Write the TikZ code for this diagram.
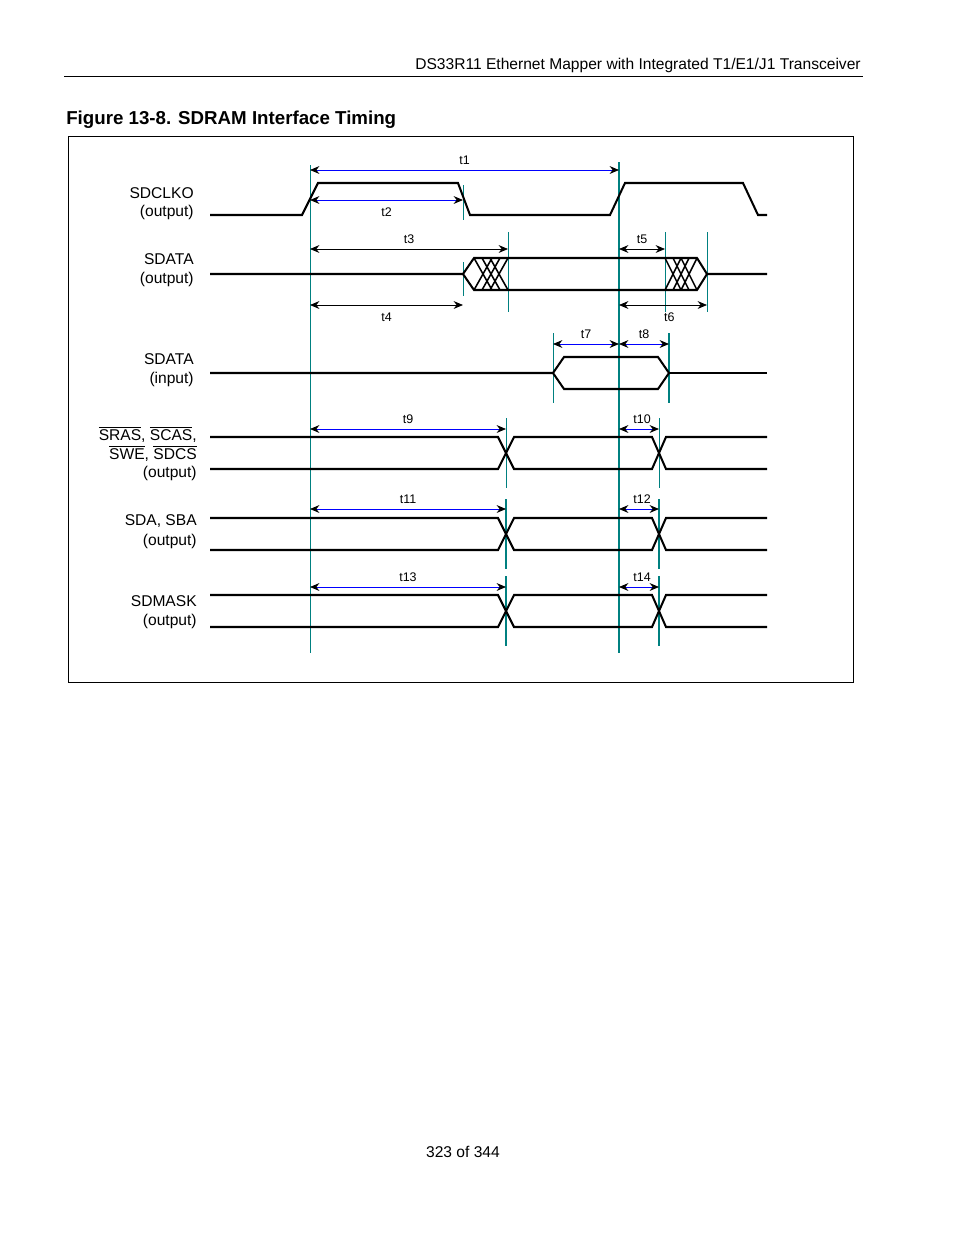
\documentclass[tikz,border=0pt]{standalone}
\usepackage{fontspec}
\setmainfont{Liberation Sans}
\usetikzlibrary{arrows, arrows.meta}
\tikzstyle{wave} = [line width=1.3pt, black]
\tikzstyle{edge} = [teal, line width=0.6pt]
\tikzstyle{edgebold} = [teal, line width=1.6pt]
\tikzstyle{tarrow} = [{Stealth[length=6pt,width=5pt,black]}-{Stealth[length=6pt,width=5pt,black]}, line width=0.5pt]
\tikzstyle{tblue} = [tarrow, draw=blue]
\tikzstyle{tlabel} = [font=\fontsize{8}{9}\selectfont, inner sep=0pt]
\tikzstyle{signame} = [font=\fontsize{10}{12}\selectfont, anchor=east, inner sep=0pt]
\begin{document}
\begin{tikzpicture}[x=0.6415pt, y=-0.6415pt]
    \useasboundingbox (0,0) rectangle (954,1235);
    % page header and frame
    \node (head) [anchor=east, inner sep=0pt, font=\fontsize{10}{12}\selectfont] at (861,65) {DS33R11 Ethernet Mapper with Integrated T1/E1/J1 Transceiver};
    \draw [line width=0.6pt] (64,76) -- (863,76);
    \node (title) [anchor=west, inner sep=0pt, font=\bfseries\fontsize{12}{14}\selectfont] at (66,120) {Figure 13-8. SDRAM Interface Timing};
    \draw [line width=0.6pt] (68,136) rectangle (853,682);
    \node (foot) [inner sep=0pt, font=\fontsize{10}{12}\selectfont] at (463,1152) {323 of 344};

    % signal names
    \node (clk) [signame] at (194,193) {SDCLKO};
    \node (clko) [signame] at (194,212) {(output)};
    \node (dout) [signame] at (194,259) {SDATA};
    \node (douto) [signame] at (194,279) {(output)};
    \node (din) [signame] at (194,359) {SDATA};
    \node (dini) [signame] at (194,379) {(input)};
    \node (ctl) [signame] at (197,434) {$\overline{\mbox{SRAS}}$, $\overline{\mbox{SCAS}}$,};
    \node (ctlb) [signame] at (197,453) {$\overline{\mbox{SWE}}$, $\overline{\mbox{SDCS}}$};
    \node (ctlo) [signame] at (197,473) {(output)};
    \node (adr) [signame] at (197,521) {SDA, SBA};
    \node (adro) [signame] at (197,541) {(output)};
    \node (msk) [signame] at (197,601) {SDMASK};
    \node (msko) [signame] at (197,621) {(output)};

    % reference edges
    \draw [edge] (310,165) -- (310,653);
    \draw [edgebold] (619,162) -- (619,653);
    \draw [edge] (463,185) -- (463,220);

    % SDCLKO
    \draw [wave] (210,215) -- (302,215) -- (318,183) -- (458,183) -- (470,215) -- (610,215) -- (625,183) -- (743,183) -- (758,215) -- (767,215);
    \draw [tblue] (310,170) -- node[tlabel, above=3pt] {t1} (619,170);
    \draw [tblue] (310,200) -- node[tlabel, below=5pt] {t2} (463,200);

    % SDATA output
    \draw [edge] (463,262) -- (463,296);
    \draw [edge] (508,232) -- (508,312);
    \draw [edge] (665,232) -- (665,312);
    \draw [edge] (707,232) -- (707,312);
    \draw [wave] (210,274) -- (463,274) -- (474,258) -- (665,258);
    \draw [wave] (463,274) -- (474,290) -- (665,290);
    \draw [wave] (665,258) -- (697,258) -- (707,274) -- (767,274);
    \draw [wave] (665,290) -- (697,290) -- (707,274);
    \foreach \x in {474,482,490} {
        \draw [line width=1pt] (\x,258) -- (\x+18,290);
        \draw [line width=1pt] (\x,290) -- (\x+18,258);
    }
    \foreach \x in {665,673,681} {
        \draw [line width=1pt] (\x,258) -- (\x+16,290);
        \draw [line width=1pt] (\x,290) -- (\x+16,258);
    }
    \draw [tarrow] (310,249) -- node[tlabel, above=3pt] {t3} (508,249);
    \draw [tarrow] (310,305) -- node[tlabel, below=5pt] {t4} (463,305);
    \draw [tarrow] (619,249) -- node[tlabel, above=3pt] {t5} (665,249);
    \draw [tarrow] (619,305) -- node[tlabel, below=5pt, xshift=4pt] {t6} (707,305);

    % SDATA input
    \draw [edge] (553,333) -- (553,403);
    \draw [edgebold] (669,333) -- (669,403);
    \draw [wave] (210,373) -- (553,373) -- (564,357) -- (658,357) -- (669,373) -- (658,389) -- (564,389) -- (553,373);
    \draw [wave] (669,373) -- (767,373);
    \draw [tblue] (553,344) -- node[tlabel, above=3pt] {t7} (619,344);
    \draw [tblue] (619,344) -- node[tlabel, above=3pt] {t8} (669,344);

    % command, address and mask buses
    \foreach \yt/\ya/\ta/\tb/\st in {437/429/t9/t10/edge, 518/509/t11/t12/edgebold, 595/587/t13/t14/edgebold} {
        \draw [\st] (506,\yt-19) -- (506,\yt+51);
        \draw [\st] (659,\yt-19) -- (659,\yt+51);
        \draw [wave] (210,\yt) -- (498,\yt) -- (514,\yt+32) -- (652,\yt+32) -- (666,\yt) -- (767,\yt);
        \draw [wave] (210,\yt+32) -- (498,\yt+32) -- (514,\yt) -- (652,\yt) -- (666,\yt+32) -- (767,\yt+32);
        \draw [tblue] (310,\ya) -- node[tlabel, above=3pt] {\ta} (506,\ya);
        \draw [tblue] (619,\ya) -- node[tlabel, above=3pt, xshift=2pt] {\tb} (659,\ya);
    }
\end{tikzpicture}
\end{document}
